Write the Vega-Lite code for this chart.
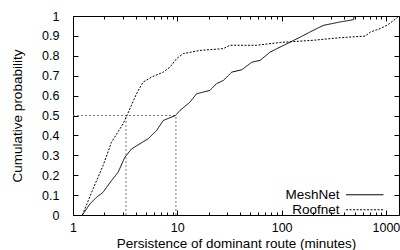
{
  "$schema": "https://vega.github.io/schema/vega-lite/v6.json",
  "autosize": "none",
  "width": 326,
  "height": 199,
  "padding": {"left": 73, "top": 16, "right": 1, "bottom": 35},
  "background": "white",
  "config": {
    "font": "Liberation Sans",
    "view": {"stroke": "black", "strokeWidth": 1},
    "axis": {"grid": false, "domainColor": "black", "tickColor": "black", "labelColor": "black", "titleColor": "black", "labelFontSize": 12.5, "titleFontSize": 13.5, "titleFontWeight": "normal", "labelFont": "Liberation Sans", "titleFont": "Liberation Sans"}
  },
  "datasets": {
    "curves": [
      {"series": "MeshNet", "x": 1.23, "y": 0},
      {"series": "MeshNet", "x": 1.45, "y": 0.055},
      {"series": "MeshNet", "x": 1.68, "y": 0.089},
      {"series": "MeshNet", "x": 1.94, "y": 0.114},
      {"series": "MeshNet", "x": 2.34, "y": 0.173},
      {"series": "MeshNet", "x": 2.71, "y": 0.215},
      {"series": "MeshNet", "x": 3.14, "y": 0.29},
      {"series": "MeshNet", "x": 3.64, "y": 0.332},
      {"series": "MeshNet", "x": 5.25, "y": 0.383},
      {"series": "MeshNet", "x": 6.32, "y": 0.424},
      {"series": "MeshNet", "x": 7.33, "y": 0.475},
      {"series": "MeshNet", "x": 9.6, "y": 0.5},
      {"series": "MeshNet", "x": 10.6, "y": 0.525},
      {"series": "MeshNet", "x": 13.2, "y": 0.567},
      {"series": "MeshNet", "x": 15.3, "y": 0.609},
      {"series": "MeshNet", "x": 20.5, "y": 0.626},
      {"series": "MeshNet", "x": 23.8, "y": 0.66},
      {"series": "MeshNet", "x": 27.6, "y": 0.676},
      {"series": "MeshNet", "x": 33.3, "y": 0.718},
      {"series": "MeshNet", "x": 41.5, "y": 0.73},
      {"series": "MeshNet", "x": 51.9, "y": 0.768},
      {"series": "MeshNet", "x": 62.1, "y": 0.777},
      {"series": "MeshNet", "x": 77.7, "y": 0.819},
      {"series": "MeshNet", "x": 96.8, "y": 0.844},
      {"series": "MeshNet", "x": 121, "y": 0.869},
      {"series": "MeshNet", "x": 151, "y": 0.894},
      {"series": "MeshNet", "x": 201, "y": 0.928},
      {"series": "MeshNet", "x": 252, "y": 0.953},
      {"series": "MeshNet", "x": 364, "y": 0.97},
      {"series": "MeshNet", "x": 491, "y": 0.982},
      {"series": "MeshNet", "x": 495, "y": 1.0},
      {"series": "Roofnet", "x": 1.23, "y": 0},
      {"series": "Roofnet", "x": 1.556, "y": 0.131},
      {"series": "Roofnet", "x": 1.94, "y": 0.248},
      {"series": "Roofnet", "x": 2.34, "y": 0.366},
      {"series": "Roofnet", "x": 2.51, "y": 0.391},
      {"series": "Roofnet", "x": 3.02, "y": 0.458},
      {"series": "Roofnet", "x": 3.45, "y": 0.525},
      {"series": "Roofnet", "x": 4.06, "y": 0.609},
      {"series": "Roofnet", "x": 4.7, "y": 0.668},
      {"series": "Roofnet", "x": 5.66, "y": 0.693},
      {"series": "Roofnet", "x": 7.33, "y": 0.718},
      {"series": "Roofnet", "x": 8.51, "y": 0.743},
      {"series": "Roofnet", "x": 9.85, "y": 0.786},
      {"series": "Roofnet", "x": 11.4, "y": 0.811},
      {"series": "Roofnet", "x": 16.5, "y": 0.827},
      {"series": "Roofnet", "x": 27.6, "y": 0.836},
      {"series": "Roofnet", "x": 32, "y": 0.853},
      {"series": "Roofnet", "x": 57.6, "y": 0.853},
      {"series": "Roofnet", "x": 96.8, "y": 0.867},
      {"series": "Roofnet", "x": 201, "y": 0.878},
      {"series": "Roofnet", "x": 364, "y": 0.891},
      {"series": "Roofnet", "x": 635, "y": 0.899},
      {"series": "Roofnet", "x": 708, "y": 0.919},
      {"series": "Roofnet", "x": 883, "y": 0.937},
      {"series": "Roofnet", "x": 1024, "y": 0.953},
      {"series": "Roofnet", "x": 1190, "y": 0.978},
      {"series": "Roofnet", "x": 1328, "y": 1.0}
    ],
    "guides": [
      {"x": 1, "x2": 9.7, "y": 0.5, "y2": 0.5},
      {"x": 3.22, "x2": 3.22, "y": 0, "y2": 0.5},
      {"x": 9.7, "x2": 9.7, "y": 0, "y2": 0.5}
    ]
  },
  "resolve": {"axis": {"x": "independent", "y": "independent"}},
  "layer": [
    {
      "data": {"name": "guides"},
      "mark": {"type": "rule", "color": "#777777", "strokeDash": [2, 2], "strokeWidth": 1},
      "encoding": {
        "x": {"field": "x", "type": "quantitative", "scale": {"type": "log", "domain": [1, 1335], "nice": false},
          "axis": {"orient": "top", "title": null, "labels": false, "domain": false,
            "values": [1,2,3,4,5,6,7,8,9,10,20,30,40,50,60,70,80,90,100,200,300,400,500,600,700,800,900,1000],
            "tickSize": {"condition": {"test": "datum.value==1||datum.value==10||datum.value==100||datum.value==1000", "value": -5}, "value": -3}}},
        "x2": {"field": "x2"},
        "y": {"field": "y", "type": "quantitative", "scale": {"domain": [0, 1], "nice": false},
          "axis": {"orient": "right", "title": null, "labels": false, "domain": false,
            "values": [0,0.1,0.2,0.3,0.4,0.5,0.6,0.7,0.8,0.9,1], "tickSize": -5}},
        "y2": {"field": "y2"}
      }
    },
    {
      "data": {"name": "curves"},
      "mark": {"type": "line", "color": "black", "strokeWidth": 1},
      "encoding": {
        "x": {"field": "x", "type": "quantitative", "scale": {"type": "log", "domain": [1, 1335], "nice": false},
          "axis": {"orient": "bottom", "title": "Persistence of dominant route (minutes)", "domain": false,
            "values": [1,2,3,4,5,6,7,8,9,10,20,30,40,50,60,70,80,90,100,200,300,400,500,600,700,800,900,1000],
            "format": "d",
            "labelExpr": "(datum.value==1||datum.value==10||datum.value==100||datum.value==1000) ? datum.label : ''",
            "tickSize": {"condition": {"test": "datum.value==1||datum.value==10||datum.value==100||datum.value==1000", "value": -5}, "value": -3},
            "labelPadding": 11, "titlePadding": 1, "labelFlush": false, "labelOverlap": false}},
        "y": {"field": "y", "type": "quantitative", "scale": {"domain": [0, 1], "nice": false},
          "axis": {"orient": "left", "title": "Cumulative probability", "domain": false,
            "values": [0,0.1,0.2,0.3,0.4,0.5,0.6,0.7,0.8,0.9,1], "format": "~g",
            "tickSize": -5, "labelPadding": 19, "titlePadding": 17, "labelFlush": false, "labelOverlap": false}},
        "strokeDash": {"field": "series", "type": "nominal",
          "scale": {"domain": ["MeshNet", "Roofnet"], "range": [[1, 0], [2, 1.5]]},
          "legend": {"title": null, "orient": "none", "legendX": 285, "legendY": 172, "padding": 0,
            "symbolType": "M-3.4,0H3.4", "symbolSize": 121, "symbolStrokeWidth": 1, "symbolStrokeColor": "black",
            "labelAlign": "right", "labelOffset": -32, "labelFontSize": 13.5, "labelColor": "black", "rowPadding": 0, "labelFont": "Liberation Sans"}}
      }
    }
  ]
}
